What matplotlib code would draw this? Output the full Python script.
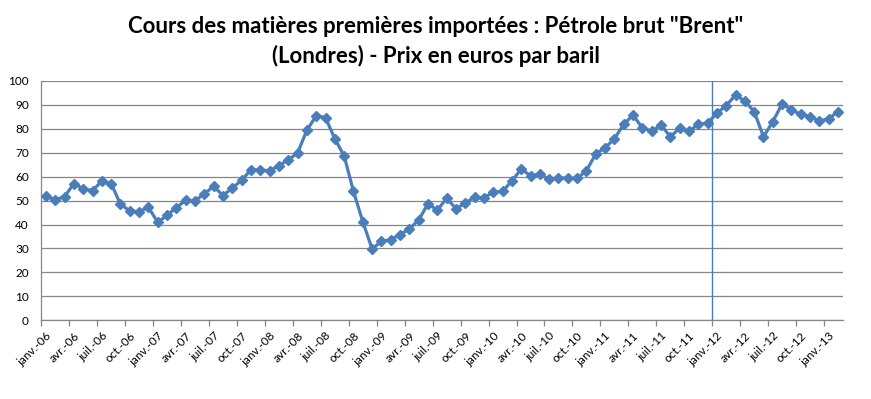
import matplotlib
matplotlib.use("Agg")
import matplotlib.pyplot as plt
import numpy as np

# Monthly Brent price in euros per barrel, janv. 2006 -> févr. 2013
prices = [
    51.9, 50.3, 51.7, 57.1, 54.9, 54.2, 58.2, 57.1, 48.5, 45.7, 45.4, 47.2,   # 2006
    40.9, 43.9, 47.1, 50.1, 49.9, 52.9, 56.0, 52.1, 55.3, 58.5, 62.9, 62.8,   # 2007
    62.5, 64.6, 67.0, 69.9, 79.4, 85.4, 84.7, 75.8, 68.7, 53.9, 41.2, 29.8,   # 2008
    33.0, 33.7, 35.8, 38.2, 41.9, 48.7, 46.0, 51.0, 46.6, 49.0, 51.5, 51.2,   # 2009
    53.5, 53.9, 58.2, 63.2, 60.4, 61.0, 58.9, 59.6, 59.3, 59.3, 62.5, 69.5,   # 2010
    72.1, 75.8, 81.9, 85.7, 80.4, 79.0, 81.6, 76.7, 80.2, 79.0, 81.9, 82.4,   # 2011
    86.5, 89.7, 94.1, 91.6, 87.2, 76.7, 83.0, 90.4, 87.9, 86.1, 85.1, 83.3,   # 2012
    84.2, 87.2,                                                               # 2013
]

tick_labels = [
    "janv.-06", "avr.-06", "juil.-06", "oct.-06",
    "janv.-07", "avr.-07", "juil.-07", "oct.-07",
    "janv.-08", "avr.-08", "juil.-08", "oct.-08",
    "janv.-09", "avr.-09", "juil.-09", "oct.-09",
    "janv.-10", "avr.-10", "juil.-10", "oct.-10",
    "janv.-11", "avr.-11", "juil.-11", "oct.-11",
    "janv.-12", "avr.-12", "juil.-12", "oct.-12",
    "janv.-13",
]

title = 'Cours des matières premières importées : Pétrole brut "Brent"\n(Londres) - Prix en euros par baril'
marker_month = 72  # janv.-12 boundary

plt.rcParams['font.family'] = ['Lato', 'DejaVu Sans']

fig = plt.figure(figsize=(8.71, 3.99), dpi=100)
ax = fig.add_axes([0.0474, 0.1972, 0.9201, 0.6000])

n = len(prices)
x = np.arange(n)
line_color = "#4A7EBB"
ax.plot(x, prices, color=line_color, lw=2.3, marker="D", markersize=5.5,
        markerfacecolor=line_color, markeredgecolor=line_color, zorder=3)

ax.set_xlim(-0.5, n - 0.5)
ax.set_ylim(0, 100)

# y axis
ax.set_yticks(np.arange(0, 101, 10))
ax.tick_params(axis='y', length=0, labelsize=8.5, pad=9, labelcolor="black")
ax.grid(axis='y', color="#868686", lw=0.9)
ax.set_axisbelow(True)

# x axis: ticks at category boundaries, labels at category centers
bounds = np.arange(0, n, 3) - 0.5
ax.set_xticks(bounds)
ax.set_xticklabels([])
ax.tick_params(axis='x', which='major', length=4.5, color="#868686", width=0.9, direction='out')
label_pos = np.arange(0, n, 3)[:len(tick_labels)]
ax.set_xticks(label_pos, minor=True)
ax.set_xticklabels(tick_labels, minor=True, rotation=45, ha='right', va='top',
                   rotation_mode='anchor', fontsize=8.5)
ax.tick_params(axis='x', which='minor', length=0, pad=7)

for side in ['top', 'right']:
    ax.spines[side].set_visible(False)
for side in ['left', 'bottom']:
    ax.spines[side].set_color("#868686")
    ax.spines[side].set_linewidth(0.9)

ax.axvline(marker_month - 0.5, color=line_color, lw=1.0, zorder=2)

fig.text(0.5, 0.96, title, ha='center', va='top', fontsize=16, fontweight='bold',
         linespacing=1.45)

fig.savefig("out.png", dpi=100)
